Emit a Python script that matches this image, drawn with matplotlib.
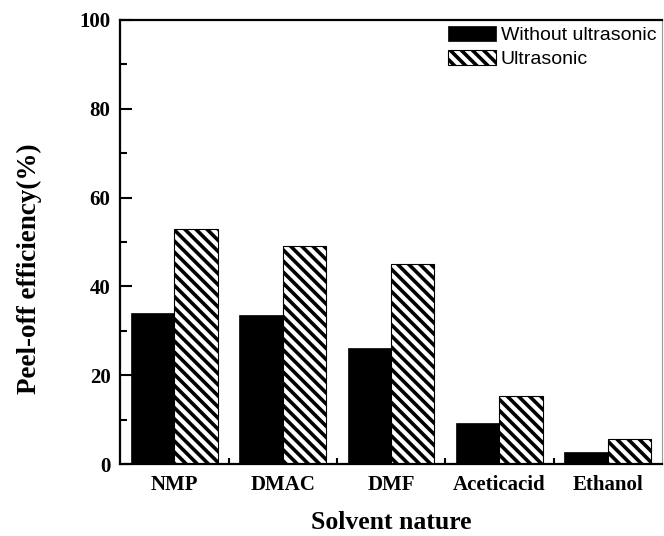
import numpy as np
import matplotlib.pyplot as plt
from matplotlib.ticker import MultipleLocator, FixedLocator

solvents = ['NMP', 'DMAC', 'DMF', 'Aceticacid', 'Ethanol']
without_us = [34.0, 33.5, 26.2, 9.2, 2.7]
with_us = [53.0, 49.2, 45.0, 15.4, 5.6]

plt.rcParams['hatch.linewidth'] = 2.6

fig = plt.figure(figsize=(6.64, 5.36), dpi=100)
ax = fig.add_axes([0.181, 0.134, 0.816, 0.829])

x = np.arange(len(solvents))
w = 0.4
ax.bar(x - w / 2, without_us, w, color='black', edgecolor='black', linewidth=0.5,
       label='Without ultrasonic')
ax.bar(x + w / 2, with_us, w, color='white', edgecolor='black', hatch='\\\\\\',
       linewidth=0.8, label='Ultrasonic')

ax.set_xlim(-0.5, 4.5)
ax.set_ylim(0, 100)
ax.set_xticks(x)
ax.set_xticklabels(solvents)
ax.xaxis.set_minor_locator(FixedLocator(np.arange(0.5, 4.5, 1.0)))
ax.yaxis.set_major_locator(MultipleLocator(20))
ax.yaxis.set_minor_locator(MultipleLocator(10))

serif_bold = dict(family='Liberation Serif', weight='bold')
for lab in ax.get_xticklabels() + ax.get_yticklabels():
    lab.set_fontfamily('Liberation Serif')
    lab.set_fontweight('bold')
    lab.set_fontsize(15)

ax.tick_params(axis='x', which='major', length=0, pad=8)
ax.tick_params(axis='x', which='minor', direction='in', length=4, width=1.5)
ax.tick_params(axis='y', which='major', direction='in', length=8.5, width=1.5, pad=7)
ax.tick_params(axis='y', which='minor', direction='in', length=5, width=1.5)

for s in ax.spines.values():
    s.set_linewidth(1.6)
ax.spines['right'].set_linewidth(0.8)
ax.spines['right'].set_color('#999999')

ax.set_xlabel('Solvent nature', fontsize=18.5, labelpad=11, **serif_bold)
ax.set_ylabel('Peel-off efficiency(%)', fontsize=19.5, **serif_bold)
ax.yaxis.set_label_coords(-0.145, 0.441)

ax.legend(loc='upper right', frameon=False, prop=dict(family='Liberation Sans', size=14),
          handlelength=2.45, handleheight=0.8, handletextpad=0.25, labelspacing=0.3,
          borderaxespad=0.0, borderpad=0.3, bbox_to_anchor=(1.0, 1.0))

plt.savefig('out.png', dpi=100)
